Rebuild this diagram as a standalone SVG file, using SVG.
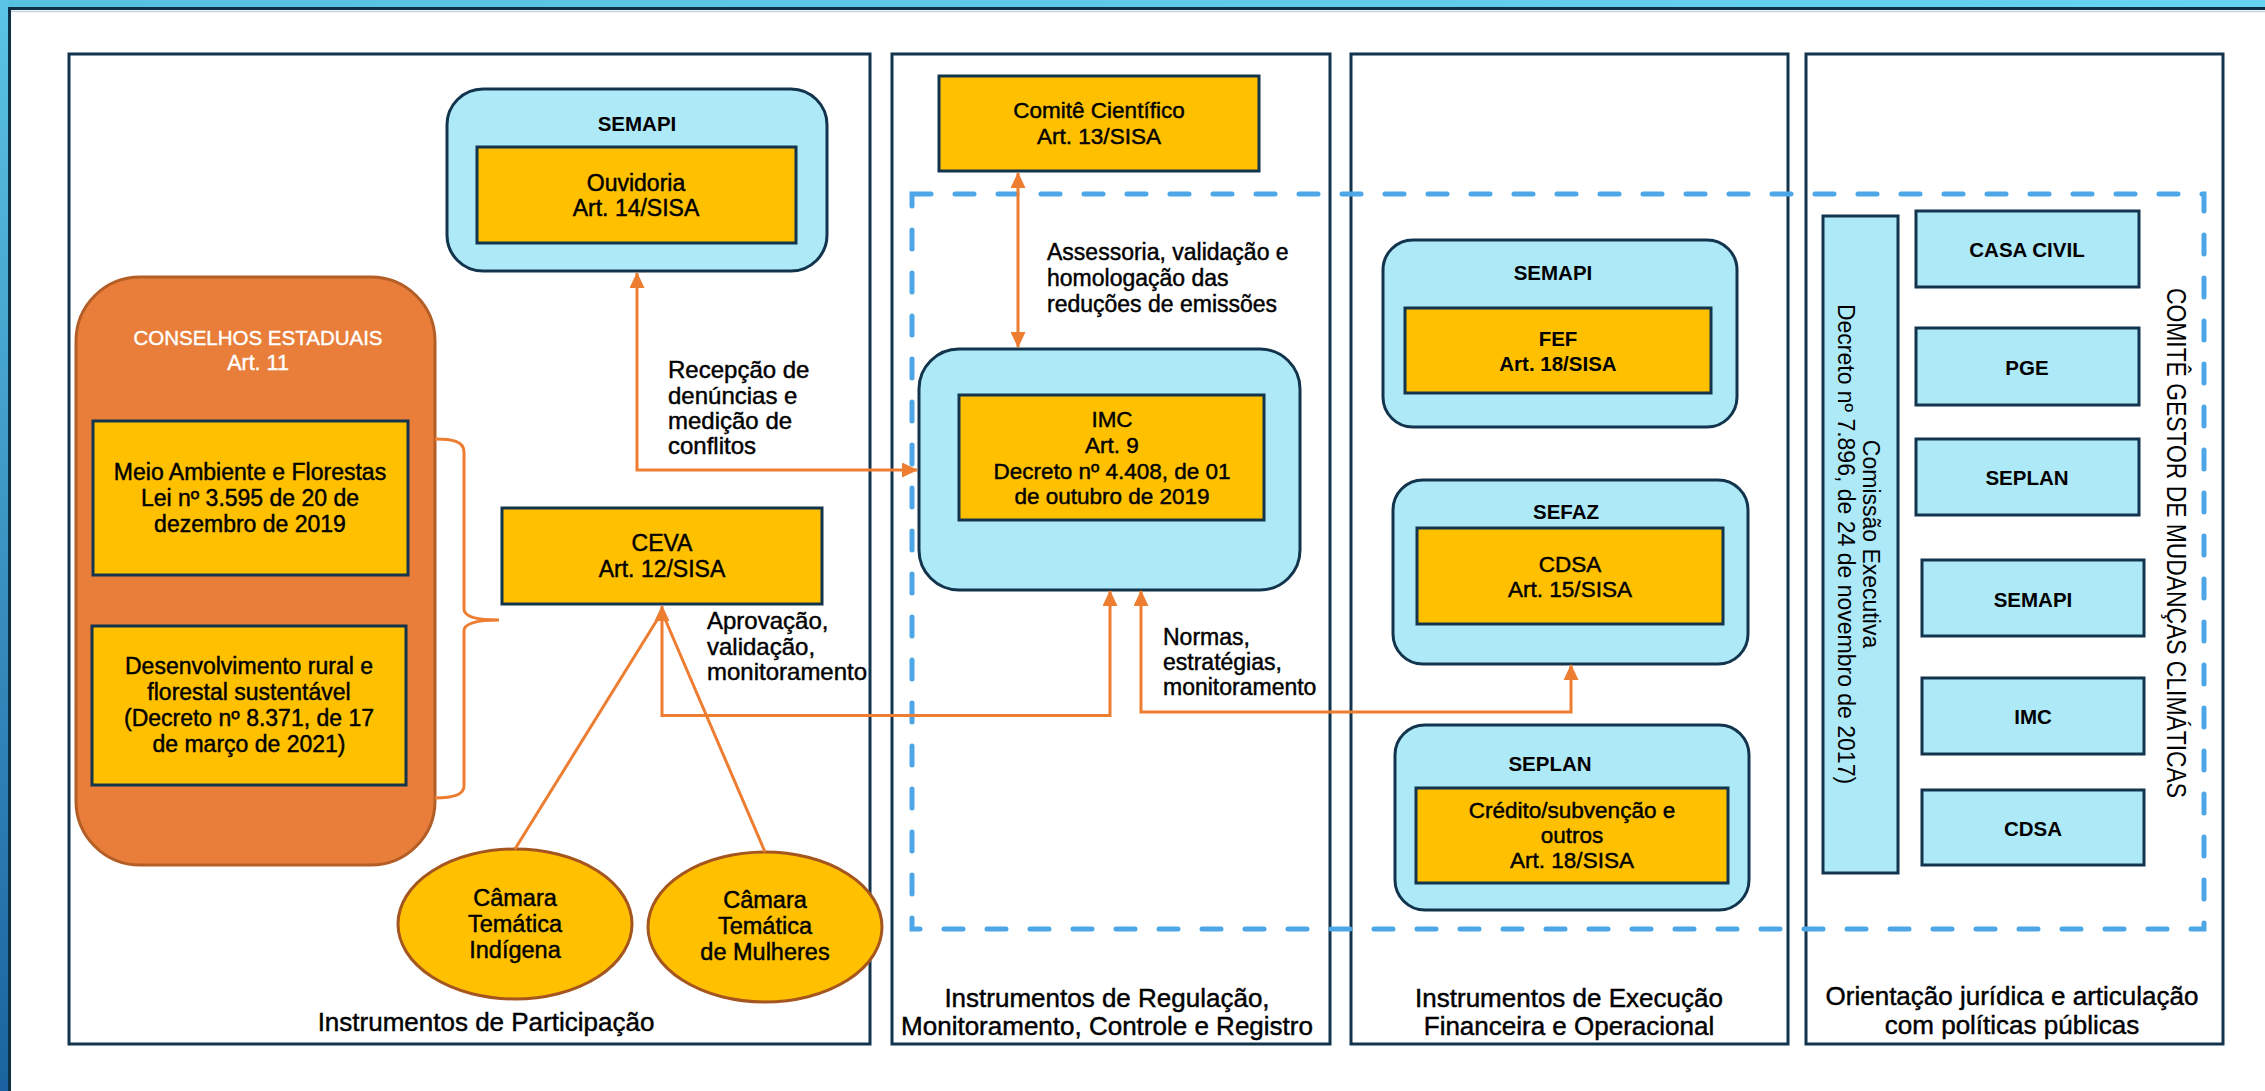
<svg xmlns="http://www.w3.org/2000/svg" width="2265" height="1091" viewBox="0 0 2265 1091">
<style>
.panel{fill:#fff;stroke:#12344D;stroke-width:3}
.yb{fill:#FFC000;stroke:#12344D;stroke-width:3}
.bb{fill:#AEE9F8;stroke:#12344D;stroke-width:3}
.t{font-family:"Liberation Sans",Arial,sans-serif;fill:#000;text-anchor:middle}
.l{font-family:"Liberation Sans",Arial,sans-serif;fill:#000;text-anchor:start}
.m{stroke:#000;stroke-width:0.45px}
.w{fill:#fff;stroke:#fff;stroke-width:0.4px}
.s23{font-size:23px}
.s22{font-size:22.5px}
.s24{font-size:24px}
.s26{font-size:26px}
.hb{font-size:20.5px;font-weight:bold}
.con{fill:none;stroke:#ED7D31;stroke-width:3}
</style>
<defs>
<linearGradient id="gTop" x1="0" x2="1" y1="0" y2="0"><stop offset="0" stop-color="#57BFE0"/><stop offset="1" stop-color="#66D4F0"/></linearGradient>
<linearGradient id="gLeft" x1="0" x2="0" y1="0" y2="1"><stop offset="0" stop-color="#5BC4E4"/><stop offset="1" stop-color="#1A63A0"/></linearGradient>
<marker id="ah" viewBox="0 0 16 15" refX="15" refY="7.5" markerWidth="16" markerHeight="15" markerUnits="userSpaceOnUse" orient="auto-start-reverse"><path d="M0,0 L16,7.5 L0,15 z" fill="#ED7D31"/></marker>
</defs>
<rect width="2265" height="1091" fill="#fff"/>
<rect x="0" y="0" width="2265" height="8" fill="url(#gTop)"/>
<rect x="0" y="0" width="9" height="1091" fill="url(#gLeft)"/>
<path d="M11,11.5 H2265" stroke="#C5D3DC" stroke-width="1.5" fill="none"/>
<path d="M9.5,1091 V8.5 H2265" stroke="#0F2F47" stroke-width="3" fill="none"/>

<g id="panels">
<rect id="panel-participacao" class="panel" x="69" y="54" width="801" height="990"/>
<rect id="panel-regulacao" class="panel" x="892" y="54" width="438" height="990"/>
<rect id="panel-execucao" class="panel" x="1351" y="54" width="437" height="990"/>
<rect id="panel-orientacao" class="panel" x="1806" y="54" width="417" height="990"/>
<text class="t m s26" x="486" y="1031">Instrumentos de Participação</text>
<text class="t m s26" x="1107" y="1007">Instrumentos de Regulação,</text>
<text class="t m s26" x="1107" y="1035">Monitoramento, Controle e Registro</text>
<text class="t m s26" x="1569" y="1007">Instrumentos de Execução</text>
<text class="t m s26" x="1569" y="1035">Financeira e Operacional</text>
<text class="t m s26" x="2012" y="1005">Orientação jurídica e articulação</text>
<text class="t m s26" x="2012" y="1034">com políticas públicas</text>
</g>

<g id="comite-gestor">
<rect x="912" y="194" width="1292" height="735" fill="none" stroke="#4DA6E6" stroke-width="5" stroke-linecap="round" stroke-dasharray="19 24"/>
<text class="t" font-size="27" font-family="'Liberation Sans Narrow','Liberation Sans',sans-serif" textLength="510" lengthAdjust="spacingAndGlyphs" transform="translate(2160,543) rotate(90)" x="0" y="-6.5">COMITÊ GESTOR DE MUDANÇAS CLIMÁTICAS</text>
</g>

<g id="semapi-ouvidoria">
<rect class="bb" x="447" y="89" width="380" height="182" rx="36"/>
<text class="t hb" x="637" y="131">SEMAPI</text>
<rect class="yb" x="477" y="147" width="319" height="96"/>
<text class="t m s23" x="636" y="191">Ouvidoria</text>
<text class="t m s23" x="636" y="216">Art. 14/SISA</text>
</g>

<g id="conselhos">
<rect x="76" y="277" width="359" height="588" rx="64" fill="#E87E3A" stroke="#B45E27" stroke-width="3"/>
<text class="t w" font-size="20.5" x="258" y="345">CONSELHOS ESTADUAIS</text>
<text class="t w" font-size="21.5" x="258" y="370">Art. 11</text>
</g>

<g id="meio-ambiente">
<rect class="yb" x="93" y="421" width="315" height="154"/>
<text class="t m s23" x="250" y="480">Meio Ambiente e Florestas</text>
<text class="t m s23" x="250" y="506">Lei nº 3.595 de 20 de</text>
<text class="t m s23" x="250" y="532">dezembro de 2019</text>
</g>

<g id="desenvolvimento">
<rect class="yb" x="92" y="626" width="314" height="159"/>
<text class="t m s23" x="249" y="674">Desenvolvimento rural e</text>
<text class="t m s23" x="249" y="700">florestal sustentável</text>
<text class="t m s23" x="249" y="726">(Decreto nº 8.371, de 17</text>
<text class="t m s23" x="249" y="752">de março de 2021)</text>
</g>

<g id="ceva">
<rect class="yb" x="502" y="508" width="320" height="96"/>
<text class="t m s23" x="662" y="551">CEVA</text>
<text class="t m s23" x="662" y="577">Art. 12/SISA</text>
</g>

<g id="camara-indigena">
<ellipse cx="515" cy="924" rx="117" ry="75" fill="#FFC000" stroke="#A5561F" stroke-width="3"/>
<text class="t m" font-size="23.5" x="515" y="906">Câmara</text>
<text class="t m" font-size="23.5" x="515" y="932">Temática</text>
<text class="t m" font-size="23.5" x="515" y="958">Indígena</text>
</g>

<g id="camara-mulheres">
<ellipse cx="765" cy="927" rx="117" ry="75" fill="#FFC000" stroke="#A5561F" stroke-width="3"/>
<text class="t m" font-size="23.5" x="765" y="908">Câmara</text>
<text class="t m" font-size="23.5" x="765" y="934">Temática</text>
<text class="t m" font-size="23.5" x="765" y="960">de Mulheres</text>
</g>

<g id="comite-cientifico">
<rect class="yb" x="939" y="76" width="320" height="95"/>
<text class="t m s22" x="1099" y="118">Comitê Científico</text>
<text class="t m s22" x="1099" y="144">Art. 13/SISA</text>
</g>

<g id="imc">
<rect class="bb" x="919" y="349" width="381" height="241" rx="40"/>
<rect class="yb" x="959" y="395" width="305" height="125"/>
<text class="t m s22" x="1112" y="427">IMC</text>
<text class="t m s22" x="1112" y="453">Art. 9</text>
<text class="t m s22" x="1112" y="479">Decreto nº 4.408, de 01</text>
<text class="t m s22" x="1112" y="504">de outubro de 2019</text>
</g>

<g id="semapi-fef">
<rect class="bb" x="1383" y="240" width="354" height="187" rx="30"/>
<text class="t hb" x="1553" y="280">SEMAPI</text>
<rect class="yb" x="1405" y="308" width="306" height="85"/>
<text class="t hb" x="1558" y="346">FEF</text>
<text class="t hb" x="1558" y="371">Art. 18/SISA</text>
</g>

<g id="sefaz-cdsa">
<rect class="bb" x="1393" y="480" width="355" height="184" rx="30"/>
<text class="t hb" x="1566" y="519">SEFAZ</text>
<rect class="yb" x="1417" y="528" width="306" height="96"/>
<text class="t m s22" x="1570" y="572">CDSA</text>
<text class="t m s22" x="1570" y="597">Art. 15/SISA</text>
</g>

<g id="seplan-credito">
<rect class="bb" x="1395" y="725" width="354" height="185" rx="30"/>
<text class="t hb" x="1550" y="771">SEPLAN</text>
<rect class="yb" x="1416" y="788" width="312" height="95"/>
<text class="t m s22" x="1572" y="818">Crédito/subvenção e</text>
<text class="t m s22" x="1572" y="843">outros</text>
<text class="t m s22" x="1572" y="868">Art. 18/SISA</text>
</g>

<g id="comissao-executiva">
<rect class="bb" x="1823" y="216" width="75" height="657"/>
<g transform="translate(1859,544) rotate(90)">
<text class="t s23" x="0" y="-4">Comissão Executiva</text>
<text class="t s23" x="0" y="21">Decreto nº 7.896, de 24 de novembro de 2017)</text>
</g>
</g>

<g id="casa-civil"><rect class="bb" x="1916" y="211" width="223" height="76"/><text class="t hb" x="2027" y="257">CASA CIVIL</text></g>
<g id="pge"><rect class="bb" x="1916" y="328" width="223" height="77"/><text class="t hb" x="2027" y="375">PGE</text></g>
<g id="seplan"><rect class="bb" x="1916" y="439" width="223" height="76"/><text class="t hb" x="2027" y="485">SEPLAN</text></g>
<g id="semapi"><rect class="bb" x="1922" y="560" width="222" height="76"/><text class="t hb" x="2033" y="607">SEMAPI</text></g>
<g id="imc-cg"><rect class="bb" x="1922" y="678" width="222" height="76"/><text class="t hb" x="2033" y="724">IMC</text></g>
<g id="cdsa-cg"><rect class="bb" x="1922" y="790" width="222" height="75"/><text class="t hb" x="2033" y="836">CDSA</text></g>

<g id="connectors">
<path class="con" d="M1018,173 V347" marker-start="url(#ah)" marker-end="url(#ah)"/>
<path class="con" d="M637,273 V470 H917" marker-start="url(#ah)" marker-end="url(#ah)"/>
<path class="con" d="M662,606 V715.5 H1110 V591" marker-start="url(#ah)" marker-end="url(#ah)"/>
<path class="con" d="M1141,591 V712 H1571 V665" marker-start="url(#ah)" marker-end="url(#ah)"/>
<path class="con" d="M515,849 L662,612"/>
<path class="con" d="M765,852 L662,612"/>
<path class="con" d="M435,439 C452,439 464,441 464,452 V609 C464,616 474,620 499,620 C474,620 464,624 464,631 V786 C464,795 452,798 435,798"/>
<text class="l m s23" x="1047" y="260">Assessoria, validação e</text>
<text class="l m s23" x="1047" y="286">homologação das</text>
<text class="l m s23" x="1047" y="312">reduções de emissões</text>
<text class="l m s24" x="668" y="378">Recepção de</text>
<text class="l m s24" x="668" y="404">denúncias e</text>
<text class="l m s24" x="668" y="429">medição de</text>
<text class="l m s24" x="668" y="454">conflitos</text>
<text class="l m s24" x="707" y="629">Aprovação,</text>
<text class="l m s24" x="707" y="655">validação,</text>
<text class="l m s24" x="707" y="680">monitoramento</text>
<text class="l m s23" x="1163" y="645">Normas,</text>
<text class="l m s23" x="1163" y="670">estratégias,</text>
<text class="l m s23" x="1163" y="695">monitoramento</text>
</g>
</svg>
